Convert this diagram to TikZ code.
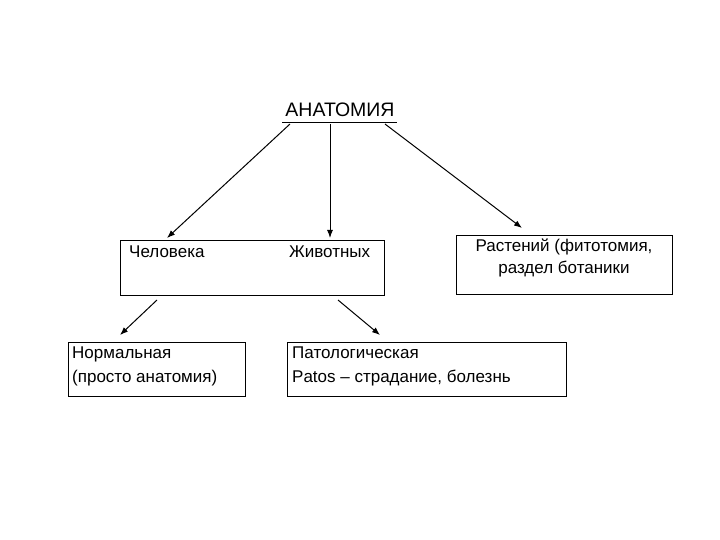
\documentclass[tikz,border=0pt]{standalone}
\usepackage{fontspec}
\usetikzlibrary{arrows.meta}
\setmainfont{Liberation Sans}
\begin{document}
\begin{tikzpicture}[x=1pt,y=-1pt,
 bx/.style={draw,line width=0.8pt,inner sep=0pt},
 ar/.style={-{Latex[length=8pt,width=6pt]},line width=1pt},
 tx/.style={font=\fontsize{17}{24}\selectfont,align=left,anchor=north west,inner sep=0pt}]
\useasboundingbox (0,0) rectangle (720,540);
\node[font=\fontsize{19.5}{22}\selectfont] (t) at (340,110) {АНАТОМИЯ};
\draw (282,122) -- (397,122);
\coordinate (t1) at (290,124); \coordinate (t2) at (330,124); \coordinate (t3) at (385,124);
\node[bx,minimum width=264pt,minimum height=55pt,anchor=north west] (b1) at (120,240) {};
\node[tx] (c) at (129,246) {Человека};
\node[tx] (z) at (289,246) {Животных};
\node[bx,minimum width=216pt,minimum height=59pt,anchor=north west] (b2) at (456,235) {};
\node[font=\fontsize{17}{22}\selectfont,align=center] (r) at (564,258) {Растений (фитотомия,\\раздел ботаники};
\coordinate (a1) at (167,238); \coordinate (a2) at (330,238); \coordinate (a3) at (522,228);
\draw[ar] (t1) -- (a1); \draw[ar] (t2) -- (a2); \draw[ar] (t3) -- (a3);
\node[bx,minimum width=177pt,minimum height=54pt,anchor=north west] (b3) at (68,342) {};
\node[tx] (n) at (72,347) {Нормальная\\(просто анатомия)};
\node[bx,minimum width=279pt,minimum height=54pt,anchor=north west] (b4) at (287,342) {};
\node[tx] (p) at (292,347) {Патологическая\\Patos – страдание, болезнь};
\coordinate (s1) at (157,300); \coordinate (e1) at (120,335);
\coordinate (s2) at (338,300); \coordinate (e2) at (380,335);
\draw[ar] (s1) -- (e1); \draw[ar] (s2) -- (e2);
\end{tikzpicture}
\end{document}
